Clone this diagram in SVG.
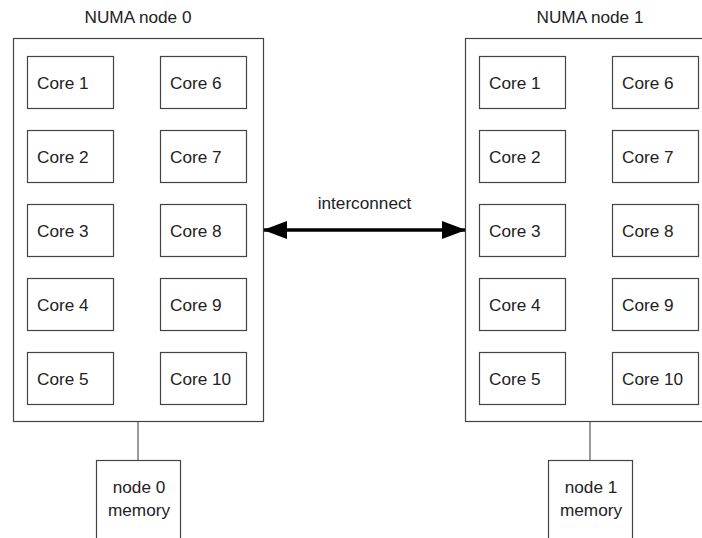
<svg xmlns="http://www.w3.org/2000/svg" width="702" height="538" viewBox="0 0 702 538">
<style>
text{font-family:"Liberation Sans",Arial,sans-serif;font-size:17.2px;fill:#222}
.box{fill:#fff;stroke:#444;stroke-width:1.2}
.t{text-anchor:middle}
.ln{stroke:#555;stroke-width:1.2;fill:none}
</style>
<defs>
<marker id="ah" viewBox="0 0 24 18" markerWidth="24" markerHeight="18" refX="23" refY="9" orient="auto-start-reverse" markerUnits="userSpaceOnUse">
<path d="M0,0 L24,9 L0,18 Z" fill="#000"/>
</marker>
</defs>
<rect width="702" height="538" fill="#fff"/>
<g id="numa0">
<text class="t" x="138" y="23">NUMA node 0</text>
<rect class="box" x="13.5" y="38.5" width="250" height="383"/>
</g>
<g id="numa1">
<text class="t" x="590" y="23">NUMA node 1</text>
<rect class="box" x="465.5" y="38.5" width="250" height="383"/>
</g>
<g id="n0c1"><rect class="box" x="27.5" y="56.5" width="86" height="52"/><text x="37" y="89">Core 1</text></g>
<g id="n0c2"><rect class="box" x="27.5" y="130.5" width="86" height="52"/><text x="37" y="163">Core 2</text></g>
<g id="n0c3"><rect class="box" x="27.5" y="204.5" width="86" height="52"/><text x="37" y="237">Core 3</text></g>
<g id="n0c4"><rect class="box" x="27.5" y="278.5" width="86" height="52"/><text x="37" y="311">Core 4</text></g>
<g id="n0c5"><rect class="box" x="27.5" y="352.5" width="86" height="52"/><text x="37" y="385">Core 5</text></g>
<g id="n0c6"><rect class="box" x="160.5" y="56.5" width="86" height="52"/><text x="170" y="89">Core 6</text></g>
<g id="n0c7"><rect class="box" x="160.5" y="130.5" width="86" height="52"/><text x="170" y="163">Core 7</text></g>
<g id="n0c8"><rect class="box" x="160.5" y="204.5" width="86" height="52"/><text x="170" y="237">Core 8</text></g>
<g id="n0c9"><rect class="box" x="160.5" y="278.5" width="86" height="52"/><text x="170" y="311">Core 9</text></g>
<g id="n0c10"><rect class="box" x="160.5" y="352.5" width="86" height="52"/><text x="170" y="385">Core 10</text></g>
<g id="n1c1"><rect class="box" x="479.5" y="56.5" width="86" height="52"/><text x="489" y="89">Core 1</text></g>
<g id="n1c2"><rect class="box" x="479.5" y="130.5" width="86" height="52"/><text x="489" y="163">Core 2</text></g>
<g id="n1c3"><rect class="box" x="479.5" y="204.5" width="86" height="52"/><text x="489" y="237">Core 3</text></g>
<g id="n1c4"><rect class="box" x="479.5" y="278.5" width="86" height="52"/><text x="489" y="311">Core 4</text></g>
<g id="n1c5"><rect class="box" x="479.5" y="352.5" width="86" height="52"/><text x="489" y="385">Core 5</text></g>
<g id="n1c6"><rect class="box" x="612.5" y="56.5" width="86" height="52"/><text x="622" y="89">Core 6</text></g>
<g id="n1c7"><rect class="box" x="612.5" y="130.5" width="86" height="52"/><text x="622" y="163">Core 7</text></g>
<g id="n1c8"><rect class="box" x="612.5" y="204.5" width="86" height="52"/><text x="622" y="237">Core 8</text></g>
<g id="n1c9"><rect class="box" x="612.5" y="278.5" width="86" height="52"/><text x="622" y="311">Core 9</text></g>
<g id="n1c10"><rect class="box" x="612.5" y="352.5" width="86" height="52"/><text x="622" y="385">Core 10</text></g>
<g id="mem0"><rect class="box" x="96.5" y="460.5" width="84" height="90"/><text class="t" x="139" y="493">node 0</text><text class="t" x="139" y="515.5">memory</text></g>
<g id="mem1"><rect class="box" x="548.5" y="460.5" width="84" height="90"/><text class="t" x="591" y="493">node 1</text><text class="t" x="591" y="515.5">memory</text></g>
<g id="connectors">
<line class="ln" x1="138" y1="422" x2="138" y2="460"/>
<line class="ln" x1="590" y1="422" x2="590" y2="460"/>
<line x1="264" y1="230" x2="465" y2="230" stroke="#000" stroke-width="3.5" marker-start="url(#ah)" marker-end="url(#ah)"/>
<text class="t" x="364.5" y="209">interconnect</text>
</g>
</svg>
